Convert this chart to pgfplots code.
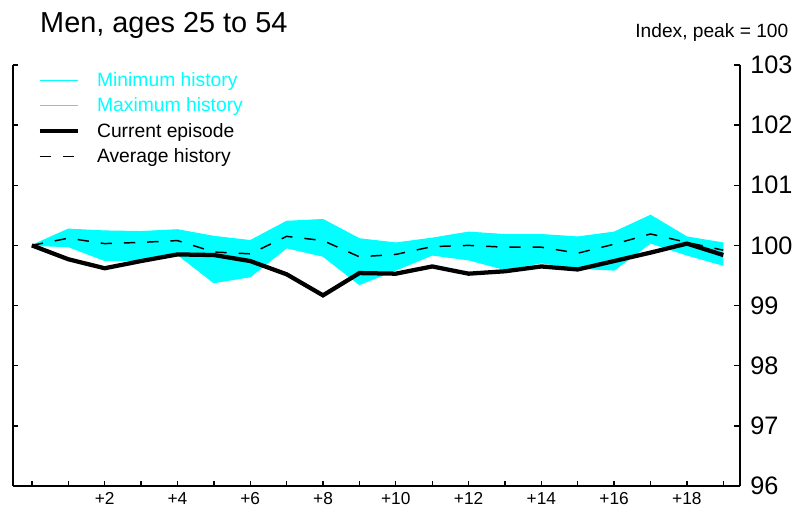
\documentclass[border=0pt]{standalone}
\usepackage{pgfplots}
\pgfplotsset{compat=1.18}
\usepgfplotslibrary{fillbetween}
\usepackage{fontspec}
\setmainfont{Liberation Sans}
\usepackage{pgfplotstable}
\definecolor{cy}{RGB}{0,255,255}
\pgfplotstableread{
x min max avg cur
0 100 100 100 100
1 99.98 100.27 100.12 99.77
2 99.75 100.24 100.03 99.62
3 99.75 100.23 100.05 99.74
4 99.85 100.26 100.08 99.85
5 99.38 100.15 99.89 99.84
6 99.48 100.08 99.86 99.74
7 99.96 100.40 100.15 99.52
8 99.82 100.43 100.08 99.17
9 99.35 100.11 99.81 99.54
10 99.59 100.04 99.85 99.53
11 99.84 100.12 99.98 99.65
12 99.76 100.22 100.00 99.53
13 99.60 100.18 99.97 99.57
14 99.71 100.18 99.97 99.65
15 99.62 100.14 99.87 99.60
16 99.59 100.22 100.02 99.74
17 100.04 100.50 100.19 99.88
18 99.84 100.14 100.05 100.03
19 99.67 100.04 99.92 99.84
}\data
\begin{document}
\begin{tikzpicture}
\begin{axis}[
  scale only axis, width=546pt, height=316.5pt,
  xmin=-0.52, xmax=19.45, ymin=96, ymax=103,
  axis x line*=bottom, axis y line*=box,
  axis line style={line width=1.5pt},
  every tick/.style={black, line width=1pt},
  tick align=inside, major tick length=4pt,
  xtick={0,...,19},
  xticklabels={{},{},{+2},{},{+4},{},{+6},{},{+8},{},{+10},{},{+12},{},{+14},{},{+16},{},{+18},{}},
  ytick={96,...,103},
  ytick pos=both, yticklabel pos=right,
  /pgf/number format/assume math mode=true,
  xticklabel style={font=\fontsize{13}{15}\selectfont, yshift=-1pt},
  yticklabel style={font=\fontsize{19}{22}\selectfont, xshift=4.5pt},
  clip=false,
  legend style={draw=none, fill=none, at={(rel axis cs:0.028,0.995)}, anchor=north west,
    font=\fontsize{14.5}{16}\selectfont, row sep=3pt,
    /tikz/every odd column/.append style={column sep=11pt}},
  legend cell align=left,
  legend image code/.code={\draw[#1] (0pt,0pt) -- (28.5pt,0pt);},
]
\addplot[cy, line width=0.8pt, name path=mn] table[x=x,y=min]{\data};
\addlegendentry{\textcolor{cy}{Minimum history}}
\addplot[cy, line width=0.8pt, name path=mx] table[x=x,y=max]{\data};
\addlegendentry{\textcolor{cy}{Maximum history}}
\addplot[cy, draw=none, forget plot] fill between[of=mn and mx];
\addlegendimage{black, line width=3.2pt}
\addlegendentry{Current episode}
\addlegendimage{black, line width=1.1pt, dash pattern=on 8.5pt off 9pt}
\addlegendentry{Average history}
\addplot[black, line width=1.1pt, dash pattern=on 8.5pt off 9pt, forget plot] table[x=x,y=avg]{\data};
\addplot[black, line width=3.2pt, forget plot] table[x=x,y=cur]{\data};
\node[anchor=base west, font=\fontsize{21.7}{24}\selectfont, inner sep=0pt] at (rel axis cs:0.0371,1.0758) {Men, ages 25 to 54};
\node[anchor=base east, font=\fontsize{14.4}{16}\selectfont, inner sep=0pt] at (rel axis cs:1.0673,1.064) {Index, peak = 100};
\path (rel axis cs:-0.01786,-0.0616) rectangle (rel axis cs:1.0769,1.154);
\end{axis}
\end{tikzpicture}
\end{document}
